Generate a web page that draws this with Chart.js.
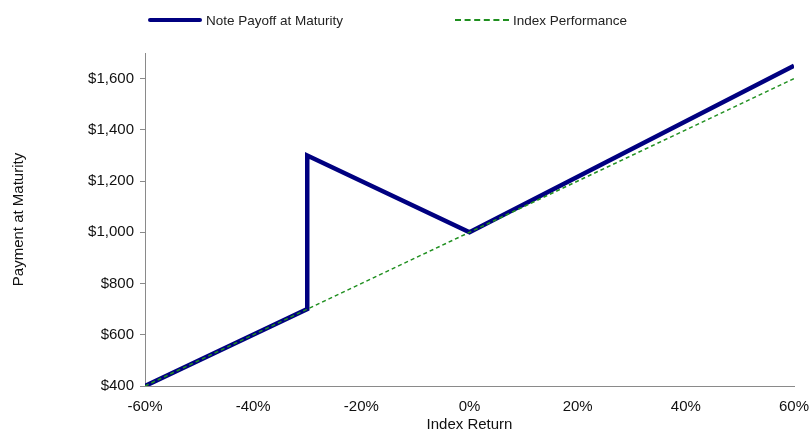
<!DOCTYPE html>
<html>
<head>
<meta charset="utf-8">
<script src="https://cdn.jsdelivr.net/npm/chart.js@4"></script>
<style>
  html, body { margin: 0; padding: 0; background: #fff; }
  #wrap { position: relative; width: 810px; height: 434px; }
  #legend {
    position: absolute; top: 11px; left: 0; width: 810px; height: 18px;
    font-family: "Liberation Sans", Arial, sans-serif; font-size: 13.5px; color: #222;
  }
  .item { position: absolute; top: 0; display: flex; align-items: center; height: 18px; }
  .swatch { width: 54px; margin-right: 4px; }
  .solid { border-top: 4px solid #000080; border-radius: 2px; }
  .dashed { border-top: 2px dashed #1f8f1f; }
</style>
</head>
<body>
<div id="wrap">
  <canvas id="chart" width="810" height="434"></canvas>
  <div id="legend"></div>
</div>
<script>
// index return (%) and payment values
const noteReturns = [-60, -30, -30, 0, 60];
const notePayoff = [400, 700, 1300, 1000, 1650];
const indexReturns = [-60, 60];
const indexPayoff = [400, 1600];

const xTicks = [-60, -40, -20, 0, 20, 40, 60];
const yTicks = [400, 600, 800, 1000, 1200, 1400, 1600];

const seriesNames = ['Note Payoff at Maturity', 'Index Performance'];
const legendLeft = [148, 455];

const fontFamily = '"Liberation Sans", Arial, sans-serif';

function toPoints(xs, ys) {
    return xs.map((x, i) => ({ x: x, y: ys[i] }));
}

function buildLegend() {
    const legend = document.getElementById('legend');
    legend.innerHTML = seriesNames.map((name, i) => `
        <div class="item" style="left:${legendLeft[i]}px">
            <div class="swatch ${i === 0 ? 'solid' : 'dashed'}"></div>
            <span>${name}</span>
        </div>
    `).join('');
}

function createChart() {
    const ctx = document.getElementById('chart').getContext('2d');

    new Chart(ctx, {
        type: 'line',
        data: {
            datasets: [
                {
                    label: seriesNames[0],
                    data: toPoints(noteReturns, notePayoff),
                    borderColor: '#000080',
                    borderWidth: 4.5,
                    pointRadius: 0,
                    tension: 0,
                    borderJoinStyle: 'miter',
                    order: 2
                },
                {
                    // dashed index line sits on top of the note line
                    label: seriesNames[1],
                    data: toPoints(indexReturns, indexPayoff),
                    borderColor: '#1f8f1f',
                    borderWidth: 1.5,
                    borderDash: [4, 3],
                    pointRadius: 0,
                    tension: 0,
                    order: 1
                }
            ]
        },
        options: {
            responsive: false,
            animation: false,
            layout: { padding: { top: 53, right: 0, left: 10, bottom: 0 } },
            plugins: {
                legend: { display: false },
                tooltip: { enabled: false }
            },
            scales: {
                x: {
                    type: 'linear',
                    min: -60,
                    max: 60,
                    afterBuildTicks: scale => { scale.ticks = xTicks.map(v => ({ value: v })); },
                    afterFit: scale => {
                        scale.height = 48;
                        scale.paddingRight = 16;
                    },
                    ticks: {
                        color: '#111',
                        font: { family: fontFamily, size: 15 },
                        padding: 4,
                        maxRotation: 0,
                        callback: v => v + '%'
                    },
                    grid: { display: false },
                    border: { display: true, color: '#8a8a8a', width: 1 },
                    title: {
                        display: true,
                        text: 'Index Return',
                        color: '#111',
                        font: { family: fontFamily, size: 15 },
                        padding: { top: 1, bottom: 0 }
                    }
                },
                y: {
                    min: 400,
                    max: 1700,
                    afterBuildTicks: scale => { scale.ticks = yTicks.map(v => ({ value: v })); },
                    afterFit: scale => { scale.width = 135; },
                    ticks: {
                        color: '#111',
                        font: { family: fontFamily, size: 15 },
                        padding: 6,
                        callback: v => '$' + v.toLocaleString('en-US')
                    },
                    grid: {
                        drawOnChartArea: false,
                        drawTicks: true,
                        tickLength: 5,
                        color: '#8a8a8a'
                    },
                    border: { display: true, color: '#8a8a8a', width: 1 },
                    title: {
                        display: true,
                        text: 'Payment at Maturity',
                        color: '#111',
                        font: { family: fontFamily, size: 15 },
                        padding: { top: 0, bottom: 0 }
                    }
                }
            }
        }
    });
}

buildLegend();
createChart();
</script>
</body>
</html>
